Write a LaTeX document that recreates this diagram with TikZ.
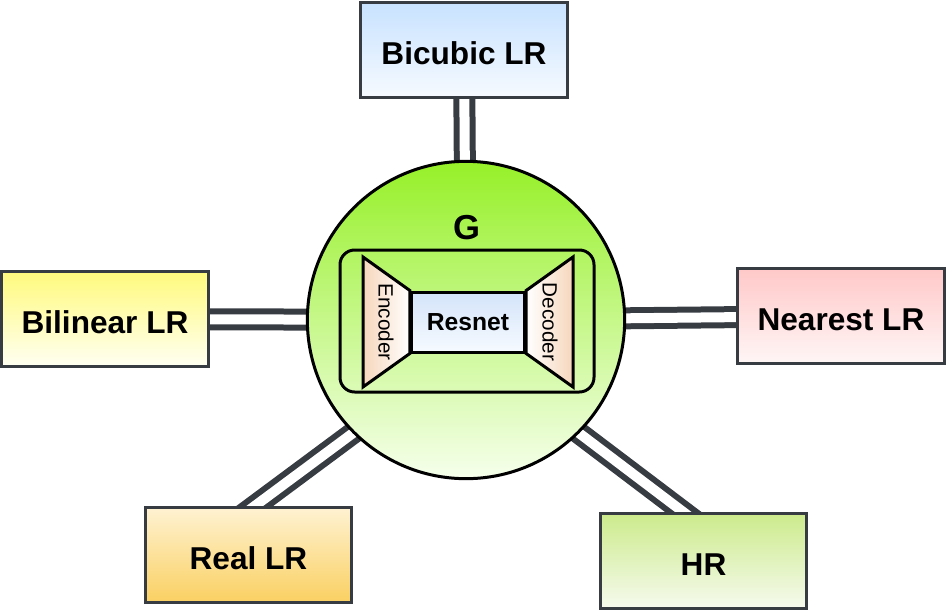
\documentclass[tikz,border=0pt]{standalone}
\usepackage{fontspec}
\setmainfont{Liberation Sans}
\usetikzlibrary{backgrounds,calc}

\definecolor{linegray}{RGB}{55,60,66}
\definecolor{bicubictop}{RGB}{200,226,255}
\definecolor{bicubicbot}{RGB}{246,250,255}
\definecolor{bilineartop}{RGB}{255,250,125}
\definecolor{bilinearbot}{RGB}{255,255,242}
\definecolor{nearesttop}{RGB}{255,200,200}
\definecolor{nearestbot}{RGB}{255,246,246}
\definecolor{realtop}{RGB}{255,242,210}
\definecolor{realbot}{RGB}{250,208,98}
\definecolor{hrtop}{RGB}{204,235,140}
\definecolor{hrbot}{RGB}{246,250,238}
\definecolor{gentop}{RGB}{150,240,40}
\definecolor{genmid}{RGB}{200,247,140}
\definecolor{genbot}{RGB}{246,255,236}
\definecolor{peach}{RGB}{246,214,188}
\definecolor{resnettop}{RGB}{212,228,250}
\definecolor{resnetbot}{RGB}{246,250,255}

\begin{document}
\begin{tikzpicture}[x=0.75pt,y=0.75pt,yscale=-1,xscale=1,
  lrbox/.style={draw=linegray,line width=2.25pt,minimum width=155pt,minimum height=71pt,inner sep=0.75pt,text height=22pt,text depth=0pt,font=\fontsize{23.7}{28}\selectfont\bfseries},
  link/.style={draw=linegray,line width=4.5pt,double=white,double distance=7.5pt},
  coderlabel/.style={inner sep=0.75pt,rotate=-90,font=\fontsize{15.5}{18}\selectfont}]
\useasboundingbox (0,0) rectangle (947,611);

%Shape: Circle [generator]
\node [circle,draw=black,line width=2.25pt,minimum size=238pt,top color=gentop,middle color=genmid,bottom color=genbot] (gen) at (466,320) {};

%Shape: Rectangles [inputs and target]
\node [lrbox,top color=bicubictop,bottom color=bicubicbot] (bicubic) at (464,50) {Bicubic LR};
\node [lrbox,top color=bilineartop,bottom color=bilinearbot] (bilinear) at (105,319) {Bilinear LR};
\node [lrbox,top color=nearesttop,bottom color=nearestbot] (nearest) at (841,316) {Nearest LR};
\node [lrbox,top color=realtop,bottom color=realbot] (reallr) at (248.5,555) {Real LR};
\node [lrbox,top color=hrtop,bottom color=hrbot] (hr) at (703.5,561) {HR};

% Text Node
\node [inner sep=0.75pt,font=\fontsize{26}{30}\selectfont\bfseries] (glabel) at (467,228) {G};

%Shape: Rounded Rectangle
\draw [black,line width=2.25pt,rounded corners=11pt] (340,250) rectangle (594,392);

%Shape: Rectangle [resnet]
\node [draw=black,line width=2.25pt,minimum width=85pt,minimum height=45pt,inner sep=0.75pt,top color=resnettop,bottom color=resnetbot,font=\fontsize{18.5}{22}\selectfont\bfseries] (resnet) at (468,322) {Resnet};

%Shape: Trapezoid [encoder]
\draw [black,line width=2.25pt,line join=miter,left color=peach,right color=white] (resnet.north west) -- (363,257) -- (363,387) -- (resnet.south west) -- cycle;
%Shape: Trapezoid [decoder]
\draw [black,line width=2.25pt,line join=miter,left color=white,right color=peach] (resnet.north east) -- (573,257) -- (573,387) -- (resnet.south east) -- cycle;

% Text Node
\node [coderlabel] (encoder) at (386,322) {Encoder};
% Text Node
\node [coderlabel] (decoder) at (550,322) {Decoder};

%Double lines
\begin{scope}[on background layer]
\draw [link] (bicubic.center) -- (gen.center);
\draw [link] (bilinear.center) -- (gen.center);
\draw [link] (nearest.center) -- (gen.center);
\coordinate (realend) at ($(reallr.north)+(6,0)$);
\coordinate (hrend) at ($(hr.north)+(-20,0)$);
\draw [link] ($(gen.225)!-20pt!(realend)$) -- ($(realend)!-20pt!(gen.225)$);
\draw [link] ($(gen.315)!-20pt!(hrend)$) -- ($(hrend)!-20pt!(gen.315)$);
\end{scope}

\end{tikzpicture}
\end{document}
